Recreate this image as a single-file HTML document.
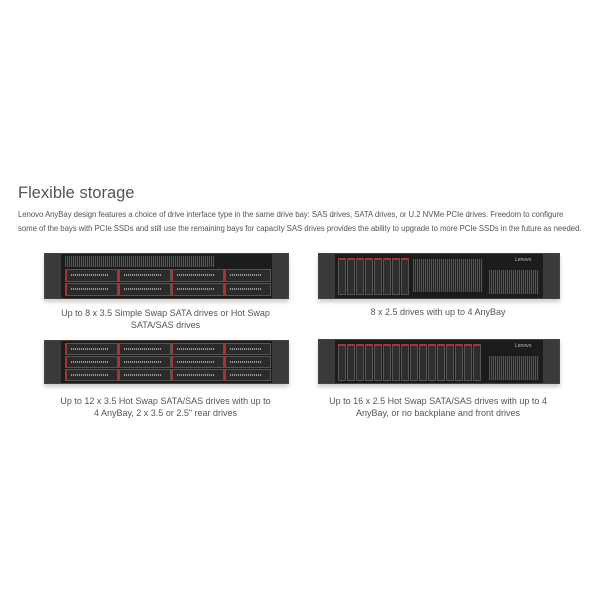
<!DOCTYPE html>
<html><head><style>
body{margin:0;width:600px;height:600px;background:#fff;position:relative;font-family:"Liberation Sans",sans-serif;overflow:hidden}
.a{position:absolute}
h1{position:absolute;left:18px;top:184px;margin:0;font-weight:normal;font-size:16.5px;color:#555}
.p{position:absolute;left:18px;font-size:7.8px;color:#555;white-space:nowrap;letter-spacing:-0.05px}
.cap{position:absolute;font-size:9px;color:#555;text-align:center;line-height:12px}
.srv{position:absolute;background:#1c1c1c;border:1px solid #444;box-shadow:0 3px 4px #ccc}
.ear{position:absolute;top:0;bottom:0;width:16px;background:#3a3a3a}
.grill{position:absolute;background:repeating-linear-gradient(90deg,#555 0 1px,#222 1px 2px),#333}
.bay{position:absolute;background:#2b2b2b;border:1px solid #555;border-left:2px solid #a33}
.bay::after{content:"";position:absolute;left:4px;right:8px;top:40%;height:2px;background:repeating-linear-gradient(90deg,#999 0 1px,#333 1px 2px)}
.sb{position:absolute;background:#2e2e2e;border:1px solid #555;border-top:2px solid #a33}
</style></head><body>
<h1>Flexible storage</h1>
<div class="p" style="top:210px">Lenovo AnyBay design features a choice of drive interface type in the same drive bay: SAS drives, SATA drives, or U.2 NVMe PCIe drives. Freedom to configure</div>
<div class="p" style="top:224px">some of the bays with PCIe SSDs and still use the remaining bays for capacity SAS drives provides the ability to upgrade to more PCIe SSDs in the future as needed.</div>

<div class="srv" style="left:44px;top:253px;width:243px;height:44px">
 <div class="ear" style="left:0"></div><div class="ear" style="right:0"></div>
 <div class="grill" style="left:20px;top:2px;width:150px;height:11px"></div>
 <div class="bay" style="left:20px;top:15px;width:50px;height:11px"></div>
 <div class="bay" style="left:73px;top:15px;width:50px;height:11px"></div>
 <div class="bay" style="left:126px;top:15px;width:50px;height:11px"></div>
 <div class="bay" style="left:179px;top:15px;width:44px;height:11px"></div>
 <div class="bay" style="left:20px;top:29px;width:50px;height:11px"></div>
 <div class="bay" style="left:73px;top:29px;width:50px;height:11px"></div>
 <div class="bay" style="left:126px;top:29px;width:50px;height:11px"></div>
 <div class="bay" style="left:179px;top:29px;width:44px;height:11px"></div>
</div>
<div class="cap" style="left:44px;top:307px;width:243px">Up to 8 x 3.5 Simple Swap SATA drives or Hot Swap<br>SATA/SAS drives</div>

<div class="srv" style="left:44px;top:340px;width:243px;height:42px">
 <div class="ear" style="left:0"></div><div class="ear" style="right:0"></div>
 <div class="bay" style="left:20px;top:2px;width:50px;height:10px"></div>
 <div class="bay" style="left:73px;top:2px;width:50px;height:10px"></div>
 <div class="bay" style="left:126px;top:2px;width:50px;height:10px"></div>
 <div class="bay" style="left:179px;top:2px;width:44px;height:10px"></div>
 <div class="bay" style="left:20px;top:15px;width:50px;height:10px"></div>
 <div class="bay" style="left:73px;top:15px;width:50px;height:10px"></div>
 <div class="bay" style="left:126px;top:15px;width:50px;height:10px"></div>
 <div class="bay" style="left:179px;top:15px;width:44px;height:10px"></div>
 <div class="bay" style="left:20px;top:28px;width:50px;height:10px"></div>
 <div class="bay" style="left:73px;top:28px;width:50px;height:10px"></div>
 <div class="bay" style="left:126px;top:28px;width:50px;height:10px"></div>
 <div class="bay" style="left:179px;top:28px;width:44px;height:10px"></div>
</div>
<div class="cap" style="left:44px;top:395px;width:243px">Up to 12 x 3.5 Hot Swap SATA/SAS drives with up to<br>4 AnyBay, 2 x 3.5 or 2.5" rear drives</div>

<div class="srv" style="left:318px;top:253px;width:240px;height:44px">
 <div class="ear" style="left:0"></div><div class="ear" style="right:0"></div>
 <div class="sb" style="left:19px;top:4px;width:6px;height:34px"></div>
 <div class="sb" style="left:28px;top:4px;width:6px;height:34px"></div>
 <div class="sb" style="left:37px;top:4px;width:6px;height:34px"></div>
 <div class="sb" style="left:46px;top:4px;width:6px;height:34px"></div>
 <div class="sb" style="left:55px;top:4px;width:6px;height:34px"></div>
 <div class="sb" style="left:64px;top:4px;width:6px;height:34px"></div>
 <div class="sb" style="left:73px;top:4px;width:6px;height:34px"></div>
 <div class="sb" style="left:82px;top:4px;width:6px;height:34px"></div>
 <div class="grill" style="left:94px;top:5px;width:70px;height:33px"></div>
 <div class="grill" style="left:170px;top:16px;width:50px;height:24px"></div>
 <div class="a" style="left:196px;top:3px;font-size:5px;color:#bbb">Lenovo</div>
</div>
<div class="cap" style="left:318px;top:306px;width:240px">8 x 2.5 drives with up to 4 AnyBay</div>

<div class="srv" style="left:318px;top:339px;width:240px;height:43px">
 <div class="ear" style="left:0"></div><div class="ear" style="right:0"></div>
 <div class="sb" style="left:19px;top:4px;width:6px;height:34px"></div>
 <div class="sb" style="left:28px;top:4px;width:6px;height:34px"></div>
 <div class="sb" style="left:37px;top:4px;width:6px;height:34px"></div>
 <div class="sb" style="left:46px;top:4px;width:6px;height:34px"></div>
 <div class="sb" style="left:55px;top:4px;width:6px;height:34px"></div>
 <div class="sb" style="left:64px;top:4px;width:6px;height:34px"></div>
 <div class="sb" style="left:73px;top:4px;width:6px;height:34px"></div>
 <div class="sb" style="left:82px;top:4px;width:6px;height:34px"></div>
 <div class="sb" style="left:91px;top:4px;width:6px;height:34px"></div>
 <div class="sb" style="left:100px;top:4px;width:6px;height:34px"></div>
 <div class="sb" style="left:109px;top:4px;width:6px;height:34px"></div>
 <div class="sb" style="left:118px;top:4px;width:6px;height:34px"></div>
 <div class="sb" style="left:127px;top:4px;width:6px;height:34px"></div>
 <div class="sb" style="left:136px;top:4px;width:6px;height:34px"></div>
 <div class="sb" style="left:145px;top:4px;width:6px;height:34px"></div>
 <div class="sb" style="left:154px;top:4px;width:6px;height:34px"></div>
 <div class="grill" style="left:170px;top:16px;width:50px;height:24px"></div>
 <div class="a" style="left:196px;top:3px;font-size:5px;color:#bbb">Lenovo</div>
</div>
<div class="cap" style="left:318px;top:395px;width:240px">Up to 16 x 2.5 Hot Swap SATA/SAS drives with up to 4<br>AnyBay, or no backplane and front drives</div>
</body></html>
